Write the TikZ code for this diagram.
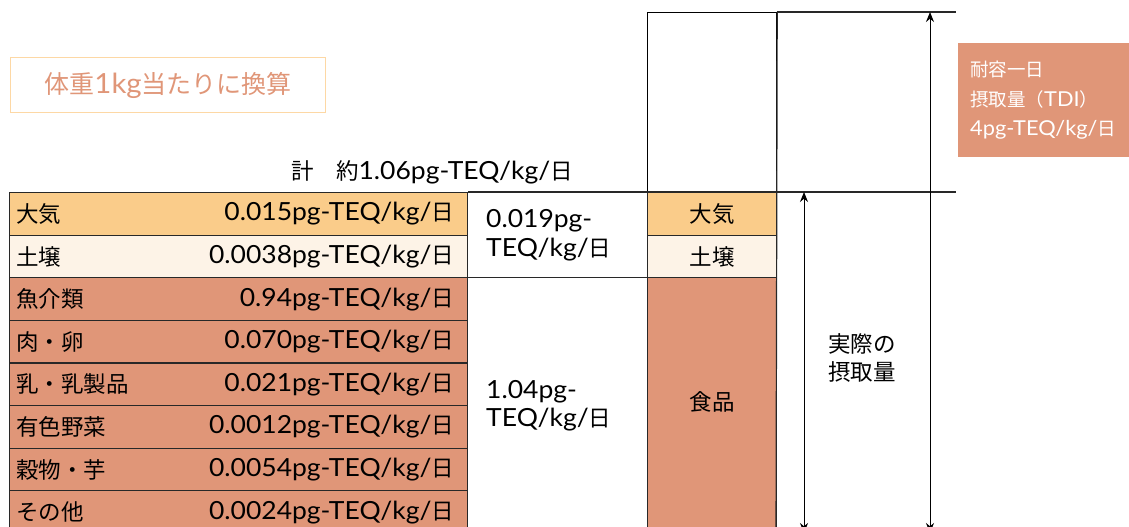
\documentclass[tikz,border=0pt]{standalone}
\usepackage{fontspec}
\setmainfont{Noto Sans CJK JP}
\newfontfamily\lat[Scale=1.11, FakeStretch=1.06]{Lato}
\usetikzlibrary{arrows.meta}
\definecolor{salmon}{RGB}{224,150,120}
\definecolor{orng}{RGB}{250,204,138}
\definecolor{cream}{RGB}{253,243,231}
\definecolor{boxedge}{RGB}{253,216,165}
\definecolor{edge}{RGB}{40,40,40}
\newcommand{\unitstr}{{\lat pg-TEQ/kg/}日}
\newcommand{\numstr}[1]{{\lat #1}}
\begin{document}
\begin{tikzpicture}[x=1pt,y=-1pt,
  font=\fontsize{22.5}{25}\selectfont,
  rowcell/.style={draw=edge, line width=1.2pt, anchor=north west, inner sep=0pt, minimum width=458pt, minimum height=42.6pt},
  midcell/.style={draw=edge, line width=1.2pt, anchor=north west, inner sep=0pt, minimum width=180pt},
  srccell/.style={draw=edge, line width=1.2pt, anchor=north west, inner sep=0pt, minimum width=129pt},
  lbl/.style={anchor=west, inner sep=0pt},
  val/.style={anchor=east, inner sep=0pt},
  twoline/.style={anchor=west, inner sep=0pt, align=left, font=\fontsize{22.5}{28.5}\selectfont},
  line/.style={draw=edge, line width=1.2pt},
  dim/.style={draw=black, line width=1pt, {Stealth[length=10pt,width=8pt]}-{Stealth[length=10pt,width=8pt]}}
]
\useasboundingbox (0,0) rectangle (1129,527);
\begin{scope}
\clip (0,0) rectangle (1129,527);
% left table rows
\foreach \i/\nm/\v/\c in {0/大気/0.015/orng,1/土壌/0.0038/cream,2/魚介類/0.94/salmon,3/肉・卵/0.070/salmon,4/乳・乳製品/0.021/salmon,5/有色野菜/0.0012/salmon,6/穀物・芋/0.0054/salmon,7/その他/0.0024/salmon}{
  \node[rowcell, fill=\c] (r\i) at (9,{192+42.6*\i}) {};
  \node[lbl] (rl\i) at ([xshift=7pt]r\i.west) {\nm};
  \node[val] (rv\i) at ([xshift=-14pt]r\i.east) {\numstr{\v}\unitstr};
}
% middle column
\node[midcell, minimum height=85.2pt, fill=white] (m1) at (467,192) {};
\node[twoline] (m1t) at ([xshift=19pt]m1.west) {\numstr{0.019pg-}\\{\lat TEQ/kg/}日};
\node[midcell, minimum height=260pt, fill=white] (m2) at (467,277.2) {};
\node[twoline] (m2t) at ([xshift=19pt,yshift=2pt]m2.west) {\numstr{1.04pg-}\\{\lat TEQ/kg/}日};
% source column
\node[srccell, minimum height=42.6pt, fill=orng] (s1) at (647,192) {大気};
\node[srccell, minimum height=42.6pt, fill=cream] (s2) at (647,234.6) {土壌};
\node[srccell, minimum height=250pt, fill=salmon] (s3) at (647,277.2) {};
\node (s3t) at ([yshift=1pt]s3.center) {食品};
% upper box
\node[draw=black, line width=1.2pt, anchor=north west, inner sep=0pt, minimum width=129pt, minimum height=180pt] (top) at (647,12) {};
\coordinate (tr) at (956,12);
\coordinate (mr) at (956,192);
\coordinate (bot) at (776,540);
\draw[line] (top.north east) -- (tr);
\draw[line] (r0.north east) -- (mr);
\draw[line] (top.north east) -- (bot);
% arrows
\coordinate (a1t) at (930,12);
\coordinate (a1b) at (930,533);
\coordinate (a2t) at (804,192);
\coordinate (a2b) at (804,533);
\draw[dim] (a1t) -- (a1b);
\draw[dim] (a2t) -- (a2b);
\node[anchor=center, align=left, font=\fontsize{22.5}{28}\selectfont] (real) at (862,358) {実際の\\摂取量};
\end{scope}
% TDI box
\node[fill=salmon, anchor=north west, minimum width=171pt, minimum height=114pt, inner sep=0pt] (tdi) at (958,43) {};
\node[anchor=west, align=left, text=white, inner sep=0pt, font=\fontsize{18.5}{29.5}\selectfont] (tdit) at ([xshift=12pt]tdi.west) {耐容一日\\摂取量（{\lat TDI}）\\{\lat 4pg-TEQ/kg/}日};
% per kg box
\node[draw=boxedge, line width=1.2pt, anchor=north west, minimum width=315pt, minimum height=55pt, inner sep=0pt, text=salmon, font=\fontsize{25}{28}\selectfont] (perkg) at (10,57) {体重{\lat 1kg}当たりに換算};
% total
\node[anchor=east, inner sep=0pt] (total) at (573,172) {計　約{\lat 1.06}\unitstr};
\end{tikzpicture}
\end{document}
